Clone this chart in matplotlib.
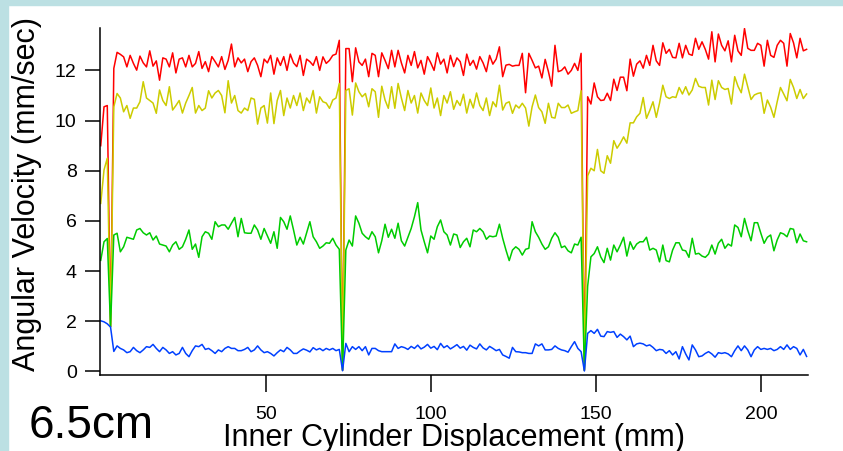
import numpy as np
import matplotlib.pyplot as plt
from matplotlib.patches import Rectangle

plt.rcParams['font.family'] = ['Liberation Sans', 'DejaVu Sans']

# displacement grid (mm): first sample and spacing between samples
x_start = 0.03
x_step = 0.99

# angular velocity (mm/sec) for each colour
# layout of each list: 3 start values, reset, run 1, reset, run 2, reset, run 3
red = [9.0, 10.55, 10.6, 1.78,
       12.08, 12.72, 12.64, 12.54, 12.14, 12.6, 12.28, 12.01, 12.57, 12.3, 12.14, 12.78, 12.17, 12.38,
       11.61, 12.5, 12.45, 12.14, 12.7, 11.9, 12.45, 12.5, 12.14, 12.6, 12.14, 12.28, 12.75, 12.08,
       12.35, 11.95, 12.55, 12.35, 12.14, 12.55, 12.04, 12.4, 13.05, 12.14, 12.5, 12.3, 12.45, 11.95,
       12.35, 12.5, 12.2, 11.75, 12.45, 12.3, 12.6, 11.85, 12.5, 12.2, 12.55, 12.0, 12.65, 12.3, 12.15,
       12.6, 11.8, 12.45, 12.35, 12.2, 12.55, 12.0, 12.54, 12.28, 12.4, 12.6, 12.65, 13.2,
       0.05,
       12.87, 12.87, 11.55, 12.9, 12.34, 12.2, 12.45, 11.75, 12.68, 12.6, 11.75, 12.7, 12.4, 12.07,
       12.8, 12.14, 12.8, 12.3, 11.9, 12.6, 12.2, 12.75, 12.1, 12.4, 11.85, 12.55, 12.3, 12.0, 12.7,
       12.25, 12.45, 11.9, 12.6, 12.15, 12.5, 12.35, 11.8, 12.65, 12.2, 12.4, 12.05, 12.55, 12.3, 11.95,
       12.6, 12.25, 12.45, 12.94, 11.75, 12.21, 12.24, 12.17, 12.2, 12.2, 12.68, 11.11, 12.68, 12.4,
       12.1, 12.17, 11.7, 12.44, 11.95, 11.37, 13.0, 11.95, 12.0, 12.14, 11.85, 12.0, 12.28, 12.0, 12.68,
       0.05,
       10.95, 10.66, 11.5, 10.95, 10.8, 10.82, 11.09, 10.8, 11.65, 11.2, 11.73, 11.73, 11.19, 12.45,
       11.77, 12.25, 12.38, 12.09, 12.6, 12.2, 13.0, 12.38, 12.2, 13.1, 12.68, 12.84, 12.52, 12.5,
       13.08, 12.5, 13.0, 12.65, 12.6, 13.28, 12.84, 13.14, 12.84, 12.45, 13.54, 12.34, 13.45, 13.0,
       12.78, 13.18, 12.34, 13.4, 12.78, 12.6, 13.67, 12.88, 12.8, 12.8, 13.08, 13.0, 12.17, 13.2,
       12.6, 12.52, 13.0, 13.2, 13.08, 12.17, 13.47, 13.1, 12.5, 13.28, 12.78, 12.84]

yellow = [6.7, 8.03, 8.5, 1.78,
          10.55, 11.08, 10.9, 10.35, 10.6, 10.09, 10.5, 10.5, 10.75, 11.55, 10.9, 10.8, 10.7, 10.29,
          11.22, 10.8, 10.6, 11.35, 10.42, 10.6, 10.8, 10.3, 10.7, 11.0, 11.32, 10.3, 10.6, 10.4, 10.5,
          11.19, 10.9, 11.1, 11.2, 11.0, 10.31, 11.59, 10.7, 11.0, 10.4, 10.3, 10.5, 10.4, 10.9, 10.85,
          9.86, 10.5, 10.6, 9.9, 11.1, 9.88, 10.8, 11.2, 10.2, 10.9, 10.5, 11.0, 10.6, 11.1, 10.4, 10.9,
          10.7, 11.2, 10.3, 10.95, 10.75, 10.7, 10.49, 10.82, 10.9, 11.48,
          0.05,
          11.2, 11.27, 10.22, 11.5, 11.15, 10.95, 11.08, 10.55, 11.27, 11.15, 10.13, 11.37, 10.82, 10.49,
          11.35, 10.49, 11.48, 10.9, 10.4, 11.2, 10.7, 11.0, 10.3, 11.1, 10.8, 10.6, 11.3, 10.5, 10.9,
          10.2, 11.0, 10.7, 11.15, 10.45, 10.8, 10.6, 11.05, 10.3, 10.85, 10.5, 11.1, 10.6, 10.4, 10.9,
          10.2, 10.75, 10.55, 11.41, 10.42, 10.69, 10.75, 10.29, 10.62, 10.5, 10.69, 10.5, 9.78, 10.55,
          11.02, 10.52, 10.35, 9.89, 10.69, 10.13, 10.1, 10.69, 10.52, 10.52, 10.62, 10.29, 10.35, 10.4,
          11.19,
          0.05,
          7.8, 8.1, 8.0, 8.85, 8.0, 7.9, 8.6, 8.3, 9.2, 8.9, 9.1, 9.35, 9.1, 9.91, 9.91, 10.15, 10.29,
          10.92, 10.09, 10.4, 10.75, 10.13, 10.7, 11.41, 10.95, 10.88, 10.95, 10.92, 11.32, 11.06, 11.35,
          11.02, 11.22, 11.68, 11.37, 11.32, 11.32, 10.62, 11.61, 10.84, 11.59, 11.32, 11.24, 11.28,
          10.66, 11.75, 11.37, 11.11, 11.85, 11.35, 10.84, 11.02, 11.08, 11.11, 10.29, 10.82, 10.53,
          10.13, 10.75, 11.32, 11.06, 10.79, 11.64, 11.32, 10.88, 11.24, 10.88, 11.06]

green = [4.43, 5.17, 5.3, 1.78,
         5.44, 5.51, 4.77, 4.97, 5.35, 5.31, 5.27, 5.64, 5.70, 5.53, 5.44, 5.53, 5.24, 5.40, 5.08, 5.04,
         5.0, 4.77, 5.04, 5.17, 4.87, 4.97, 5.27, 5.64, 4.87, 5.08, 4.55, 5.37, 5.57, 5.51, 5.27, 5.97,
         5.77, 5.84, 5.84, 5.67, 5.91, 6.14, 5.37, 6.10, 5.53, 5.51, 5.51, 5.84, 5.64, 5.27, 5.70, 5.40,
         5.11, 5.57, 4.91, 6.14, 5.97, 5.67, 6.20, 5.64, 5.04, 5.35, 5.08, 5.53, 5.97, 5.37, 5.17, 4.91,
         5.0, 5.13, 5.11, 5.31, 5.04, 4.87,
         0.05,
         4.84, 5.24, 5.0, 6.20, 5.91, 5.51, 5.37, 5.27, 5.57, 5.37, 4.73, 5.21, 5.87, 5.35, 5.67, 5.31,
         5.91, 5.21, 5.0, 5.35, 5.70, 6.17, 6.73, 5.64, 5.17, 4.73, 5.40, 5.27, 5.77, 6.04, 5.57, 5.44,
         5.04, 5.48, 5.44, 4.94, 5.17, 5.31, 4.97, 5.64, 5.57, 5.70, 5.57, 5.27, 5.40, 5.37, 5.40, 5.87,
         5.31, 4.84, 4.42, 4.84, 4.97, 4.87, 4.64, 4.87, 4.91, 5.97, 5.57, 5.35, 5.08, 4.87, 4.97, 5.31,
         5.53, 5.35, 4.94, 5.0, 4.81, 4.73, 5.08, 5.04, 5.35,
         0.05,
         3.4, 4.57, 4.70, 4.97, 4.57, 4.34, 4.91, 4.44, 5.04, 4.77, 5.04, 5.35, 4.60, 5.17, 4.87, 5.08,
         5.17, 5.17, 5.35, 4.84, 4.91, 4.84, 4.37, 5.04, 4.42, 4.37, 4.84, 5.13, 5.13, 4.84, 4.81, 4.55,
         5.31, 4.68, 4.71, 4.60, 4.55, 4.68, 5.04, 4.68, 5.11, 5.27, 4.91, 5.08, 5.0, 5.84, 5.74, 5.37,
         6.10, 5.61, 5.21, 5.93, 5.93, 5.51, 5.11, 5.35, 5.44, 4.81, 5.24, 5.53, 5.48, 5.37, 5.70, 5.67,
         5.13, 5.48, 5.21, 5.17]

blue = [2.02, 1.98, 1.9, 1.77,
        0.8, 1.02, 0.92, 0.86, 0.75, 0.79, 0.96, 0.83, 0.75, 0.86, 0.99, 0.96, 1.08, 0.92, 0.79, 0.96,
        0.86, 0.72, 0.79, 0.66, 0.72, 0.96, 0.72, 0.59, 0.83, 1.02, 0.99, 1.08, 0.88, 0.92, 0.83, 0.72,
        0.86, 0.79, 0.92, 0.99, 0.92, 0.92, 0.83, 0.83, 0.88, 0.96, 0.79, 0.86, 1.02, 0.86, 0.75, 0.79,
        0.72, 0.62, 0.75, 0.86, 0.79, 0.96, 0.86, 0.72, 0.72, 0.82, 0.9, 0.85, 0.78, 0.95, 0.86, 0.92,
        0.83, 0.92, 0.86, 0.92, 0.83, 0.88,
        0.03,
        1.12, 0.79, 0.99, 0.88, 0.99, 0.83, 0.99, 0.66, 0.92, 0.92, 0.83, 0.79, 0.79, 0.79, 0.79, 1.10,
        0.92, 0.99, 0.95, 0.88, 1.0, 0.92, 1.05, 0.9, 0.97, 1.08, 0.93, 1.0, 0.87, 1.12, 0.95, 1.03, 0.9,
        0.98, 1.07, 0.93, 1.0, 0.85, 1.05, 0.96, 0.9, 1.1, 0.94, 0.86, 1.0, 0.92, 0.83, 0.88, 0.66, 0.6,
        0.53, 0.96, 0.79, 0.78, 0.75, 0.75, 0.72, 0.72, 1.10, 1.02, 1.10, 0.86, 0.86, 0.88, 1.02, 0.92,
        0.86, 0.83, 0.77, 0.99, 1.19, 0.92, 0.79,
        0.02,
        1.52, 1.63, 1.52, 1.68, 1.41, 1.39, 1.59, 1.56, 1.59, 1.36, 1.49, 1.39, 1.26, 1.41, 0.99, 1.10,
        1.13, 1.10, 1.02, 1.06, 0.96, 0.83, 0.88, 0.86, 0.72, 0.83, 0.66, 0.79, 0.50, 0.99, 0.70, 0.46,
        1.06, 0.86, 0.59, 0.62, 0.72, 0.79, 0.70, 0.57, 0.75, 0.72, 0.75, 0.70, 0.59, 0.83, 1.02, 0.83,
        1.02, 0.86, 0.59, 0.86, 0.99, 0.88, 0.92, 0.88, 0.92, 0.83, 0.88, 0.99, 0.88, 1.06, 0.88, 0.99,
        0.92, 0.66, 0.88, 0.6]

disp = x_start + x_step * np.arange(len(red))

fig = plt.figure(figsize=(8.43, 4.51), dpi=100)
# light blue slide border along the top and left edge
fig.patches.append(Rectangle((0, 0.989), 1, 0.011, transform=fig.transFigure,
                             color='#bce0e3', zorder=0))
fig.patches.append(Rectangle((0, 0), 0.0095, 1, transform=fig.transFigure,
                             color='#bce0e3', zorder=0))

ax = fig.add_axes([0.1186, 0.1685, 0.8399, 0.7694])
ax.plot(disp, red, color='#ff0000', lw=1.1)
ax.plot(disp, yellow, color='#cccc00', lw=1.1)
ax.plot(disp, green, color='#00cc00', lw=1.1)
ax.plot(disp, blue, color='#0040ff', lw=1.1)

ax.set_xlim(-0.2, 214.3)
ax.set_ylim(-0.14, 13.69)
ax.set_xticks([50, 100, 150, 200])
ax.set_yticks([0, 2, 4, 6, 8, 10, 12])

for s in ['top', 'right']:
    ax.spines[s].set_visible(False)
for s in ['left', 'bottom']:
    ax.spines[s].set_linewidth(1.1)
ax.tick_params(axis='y', direction='out', length=10.8, width=1.1, pad=6, labelsize=14)
ax.tick_params(axis='x', direction='out', length=12, width=1.1, pad=10, labelsize=14)

ax.set_xlabel('Inner Cylinder Displacement (mm)', fontsize=22, labelpad=0)
fig.text(27 / 843, 0.570, 'Angular Velocity (mm/sec)', rotation=90, fontsize=22,
         ha='center', va='center')
fig.text(29 / 843, 0.0288, '6.5cm', fontsize=33, ha='left', va='baseline')

fig.savefig('out.png', dpi=100)
